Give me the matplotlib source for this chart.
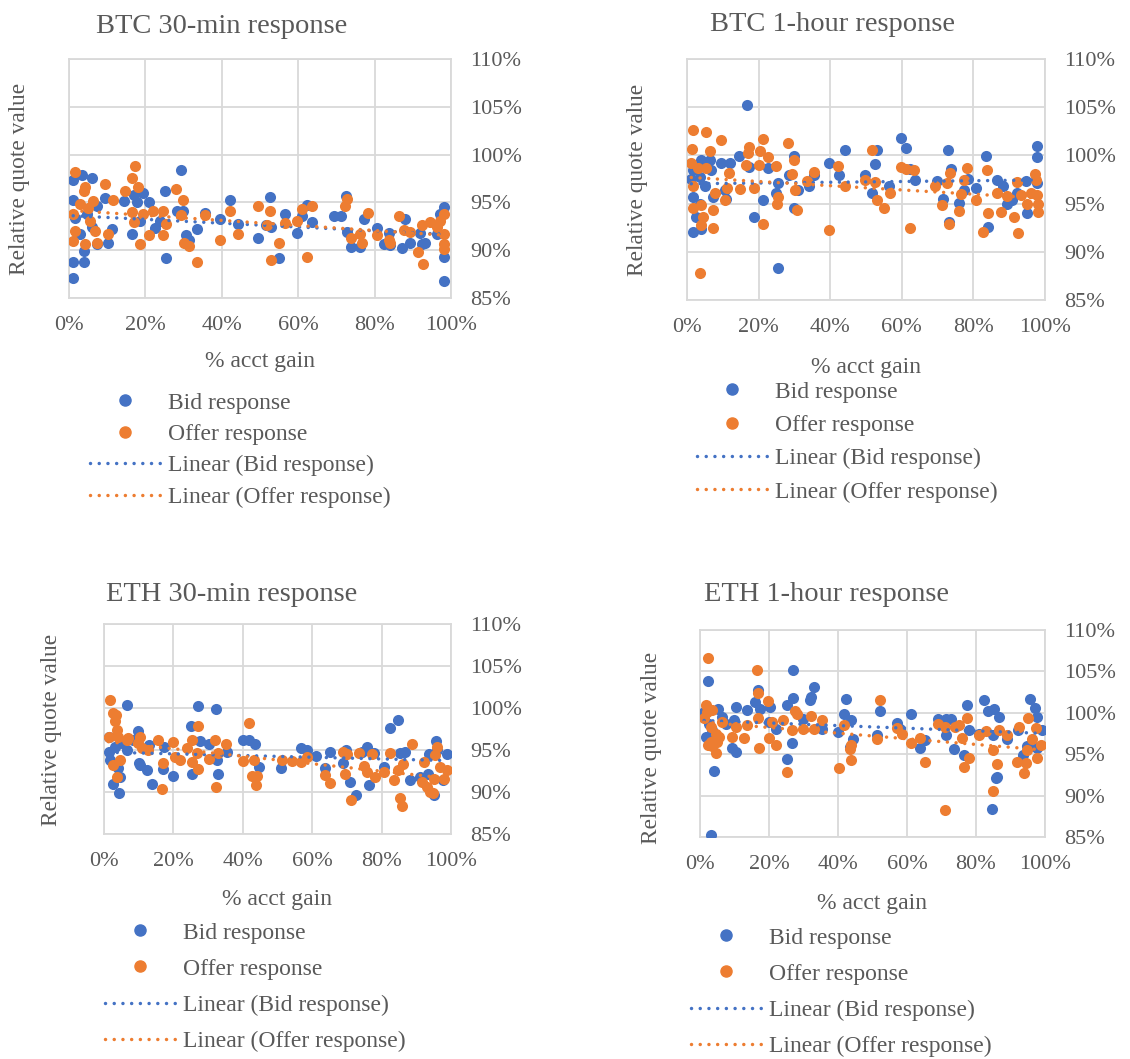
import numpy as np
import matplotlib
matplotlib.use("Agg")
import matplotlib.pyplot as plt
from matplotlib.lines import Line2D
from matplotlib.ticker import FuncFormatter

# values (x = % acct gain, y = relative quote value, both in %)
btc30_bid_x = [1.1, 3.3, 6.1, 1.1, 9.4, 14.5, 16.9, 19.5, 21.0, 25.2, 29.3, 28.2, 29.9, 30.7, 31.5, 33.6,
               35.5, 39.6, 42.2, 44.2, 49.6, 51.5, 52.7, 52.9, 55.0, 56.6, 59.7, 61.0, 62.3, 63.6, 69.3,
               71.3, 72.6, 72.8, 73.8, 76.2, 77.3, 80.6, 82.4, 83.7, 84.1, 87.2, 88.0, 89.3, 92.0, 92.4,
               93.3, 96.3, 97.2, 98.1, 98.1, 98.1, 1.1, 3.8, 1.1, 3.8, 2.9, 5.9, 7.3, 10.3, 11.2, 16.4,
               18.6, 22.5, 25.4, 1.6, 4.6, 7.3, 17.7, 23.8]
btc30_bid_y = [97.3, 97.9, 97.5, 95.2, 95.5, 95.1, 95.8, 96.0, 95.0, 96.2, 98.4, 94.1, 94.1, 91.6, 91.1, 92.2,
               93.9, 93.3, 95.3, 92.7, 91.3, 92.6, 95.6, 92.4, 89.2, 93.8, 91.8, 93.6, 94.7, 93.0, 93.6,
               93.6, 95.7, 91.9, 90.3, 90.3, 93.3, 92.3, 90.6, 91.8, 90.5, 90.2, 93.3, 90.8, 91.8, 90.6,
               90.8, 91.7, 93.8, 94.5, 89.3, 86.8, 88.8, 88.8, 87.1, 89.9, 91.7, 92.4, 90.6, 90.8, 92.2, 91.7,
               93.1, 92.3, 89.2, 93.4, 93.8, 94.6, 95.0, 93.1]
btc30_off_x = [1.6, 4.2, 3.9, 9.4, 11.6, 14.7, 16.4, 17.3, 18.0, 16.4, 16.9, 18.6, 21.0, 19.5, 22.1, 24.7,
               25.4, 24.7, 28.0, 29.8, 29.3, 30.0, 31.3, 33.6, 35.5, 39.4, 42.2, 44.2, 49.6, 52.5, 51.8,
               52.8, 55.0, 56.6, 59.7, 61.1, 63.6, 62.3, 72.3, 72.8, 73.8, 76.2, 76.7, 78.2, 80.6, 83.7,
               84.1, 86.3, 87.6, 89.3, 91.3, 92.7, 92.4, 94.6, 96.3, 97.2, 98.1, 98.1, 98.1, 98.1, 1.1,
               1.6, 1.1, 2.9, 5.1, 6.8, 6.4, 7.3, 4.2, 5.5, 10.3]
btc30_off_y = [98.2, 96.6, 96.2, 96.9, 95.2, 96.2, 97.5, 98.8, 96.6, 94.0, 92.9, 90.6, 91.6, 93.8, 94.1, 94.1,
               92.7, 91.6, 96.4, 95.3, 93.7, 90.8, 90.4, 88.8, 93.7, 91.1, 94.1, 91.7, 94.6, 94.1, 92.6,
               89.0, 90.8, 92.8, 93.1, 94.3, 94.6, 89.3, 94.6, 95.4, 91.3, 91.7, 90.8, 93.9, 91.6, 91.1,
               90.8, 93.6, 92.1, 91.9, 89.8, 88.6, 92.6, 93.0, 92.4, 93.1, 93.8, 91.7, 90.6, 90.1, 93.8,
               92.0, 91.0, 94.8, 94.4, 92.0, 95.1, 90.8, 90.6, 93.1, 91.7]

btc60_bid_x = [16.7, 25.5, 1.7, 4.0, 1.7, 4.0, 6.3, 9.5, 12.0, 14.6, 17.4, 18.8, 21.3, 22.5, 24.8, 25.3,
               29.9, 29.9, 28.5, 31.1, 34.0, 35.4, 39.6, 42.4, 44.2, 49.8, 51.6, 52.5, 53.2, 56.4, 59.8,
               61.1, 62.4, 63.6, 69.7, 71.5, 72.9, 73.1, 73.8, 76.1, 77.5, 78.4, 80.8, 83.5, 84.0, 86.6,
               88.2, 89.5, 90.9, 92.3, 94.6, 95.1, 97.9, 97.9, 97.9, 1.2, 1.7, 3.5, 2.6, 4.9, 7.2, 3.5,
               6.8, 10.9, 10.5]
btc60_bid_y = [105.2, 88.3, 92.1, 92.4, 98.5, 99.5, 99.5, 99.2, 99.2, 99.9, 98.8, 93.6, 95.4, 98.7, 96.1, 97.1,
               99.9, 94.5, 98.0, 96.4, 96.8, 98.0, 99.2, 98.0, 100.6, 98.0, 96.1, 99.1, 100.6, 96.8, 101.8,
               100.8, 98.6, 97.5, 97.3, 95.5, 100.6, 93.1, 98.6, 95.1, 96.4, 97.6, 96.6, 99.9, 92.6, 97.4,
               96.8, 95.0, 95.4, 96.1, 97.3, 94.0, 101.0, 99.8, 97.1, 97.6, 95.7, 95.0, 93.6, 96.8, 95.7, 97.8,
               98.5, 95.5, 96.4]
btc60_off_x = [1.8, 5.4, 1.5, 6.3, 9.5, 11.8, 14.8, 16.5, 17.0, 17.4, 18.8, 20.2, 20.4, 21.1, 21.3, 22.5,
               24.8, 25.0, 25.5, 28.2, 29.9, 29.4, 30.3, 30.8, 33.6, 35.4, 39.6, 42.2, 44.2, 49.6, 51.6,
               52.5, 53.0, 55.1, 56.7, 59.8, 61.3, 63.5, 62.4, 69.4, 71.2, 72.7, 73.1, 73.6, 76.1, 76.4,
               77.5, 78.3, 80.8, 82.6, 83.8, 84.0, 86.6, 87.7, 89.5, 91.4, 92.3, 92.5, 93.2, 94.9, 96.2,
               97.1, 97.4, 97.9, 98.1, 98.1, 3.7, 1.2, 1.7, 1.7, 3.1, 4.0, 4.0, 4.4, 7.2, 7.2, 5.4, 7.7,
               11.2, 10.5]
btc60_off_y = [102.6, 102.4, 100.7, 100.5, 101.6, 98.2, 96.5, 99.0, 100.2, 100.9, 96.6, 99.0, 100.5, 101.7, 92.9, 99.8,
               98.9, 95.0, 95.7, 101.3, 99.5, 98.1, 96.4, 94.3, 97.3, 98.3, 92.3, 98.9, 96.8, 97.5, 100.6,
               97.2, 95.4, 94.5, 96.1, 98.8, 98.6, 98.5, 92.5, 96.8, 94.9, 97.1, 92.9, 98.2, 94.2, 96.0,
               97.4, 98.7, 95.4, 92.1, 98.5, 94.0, 96.1, 94.1, 95.8, 93.6, 97.2, 91.9, 95.9, 95.0, 96.1,
               98.1, 97.4, 95.9, 95.0, 94.1, 87.8, 99.2, 96.8, 94.5, 98.7, 94.9, 92.8, 93.6, 94.3, 92.5, 98.7, 96.1,
               96.6, 95.4]

eth30_bid_x = [6.7, 27.0, 32.3, 25.0, 9.7, 1.3, 2.7, 4.4, 4.6, 10.4, 12.5, 13.8, 13.1, 16.9, 17.3, 19.8,
               25.3, 27.7, 30.4, 32.5, 32.9, 35.4, 40.2, 41.9, 43.6, 44.8, 50.9, 56.7, 58.5, 61.1, 63.7,
               65.0, 68.8, 69.8, 70.9, 72.7, 73.7, 74.3, 75.9, 76.5, 77.9, 80.6, 82.3, 84.6, 85.2, 86.8,
               88.3, 91.2, 93.3, 93.6, 95.0, 95.8, 97.7, 98.8, 96.0, 1.3, 1.7, 3.2, 4.1, 5.1, 6.5, 8.5, 10.2]
eth30_bid_y = [100.3, 100.2, 99.9, 97.8, 97.3, 96.5, 91.0, 89.9, 91.8, 93.2, 92.6, 91.0, 95.6, 92.7, 95.4, 91.9,
               92.2, 96.1, 95.7, 93.8, 92.2, 94.8, 96.2, 96.2, 95.7, 93.0, 92.8, 95.2, 95.0, 94.3, 92.8,
               94.8, 93.5, 95.0, 91.2, 89.6, 94.6, 94.8, 95.4, 90.8, 94.6, 93.0, 97.6, 98.6, 94.6, 94.8,
               91.4, 91.8, 92.2, 94.5, 89.6, 96.1, 91.4, 94.5, 95.0, 94.8, 93.8, 95.4, 92.8, 95.8, 95.0, 96.2, 93.4]
eth30_off_x = [1.7, 2.5, 3.5, 3.2, 3.8, 4.1, 1.3, 2.5, 3.7, 4.6, 6.5, 7.0, 10.4, 9.9, 10.9, 12.8, 15.7, 16.6,
               17.1, 19.8, 20.5, 21.9, 23.8, 25.3, 25.3, 26.7, 27.0, 27.2, 30.4, 32.1, 32.3, 32.9, 35.2,
               41.7, 40.2, 43.1, 42.6, 44.2, 43.8, 51.2, 54.1, 56.7, 58.5, 63.7, 65.0, 69.0, 69.5, 70.0,
               71.2, 73.4, 74.8, 75.8, 77.2, 78.1, 80.6, 82.3, 83.5, 84.6, 85.4, 85.9, 86.3, 88.7, 92.3,
               91.6, 93.1, 94.0, 94.8, 95.2, 95.5, 96.0, 96.9, 98.8, 97.9]
eth30_off_y = [101.0, 99.4, 99.2, 98.4, 97.4, 96.6, 96.6, 93.2, 91.8, 93.8, 96.2, 96.4, 96.6, 95.8, 95.2, 95.0, 96.2, 90.3,
               93.5, 96.0, 94.2, 93.8, 95.2, 96.2, 93.6, 94.6, 97.8, 92.7, 93.9, 96.2, 90.6, 94.6, 95.7,
               98.2, 93.7, 93.8, 91.9, 91.9, 90.8, 93.8, 93.7, 93.6, 94.2, 92.0, 91.1, 94.8, 92.2, 94.5,
               89.1, 94.6, 93.1, 92.4, 94.5, 91.8, 92.4, 94.6, 91.4, 92.6, 89.3, 88.3, 93.3, 95.7, 93.6,
               91.2, 90.6, 90.0, 89.9, 91.6, 94.4, 95.4, 93.0, 92.6, 91.6]

eth60_bid_x = [3.3, 2.4, 4.0, 5.3, 10.5, 13.7, 10.5, 9.3, 15.9, 16.8, 17.5, 20.4, 19.9, 22.1, 25.2, 25.2,
               27.1, 27.1, 26.6, 29.8, 31.9, 32.2, 32.9, 35.3, 40.1, 41.7, 42.3, 43.7, 43.5, 44.4, 51.2,
               52.1, 57.0, 57.9, 61.3, 63.7, 65.1, 68.9, 71.3, 72.8, 71.3, 73.6, 76.4, 77.4, 78.1, 81.0,
               82.4, 83.4, 85.3, 86.7, 84.8, 88.9, 85.8, 86.1, 84.6, 92.2, 93.5, 94.9, 95.7, 97.0, 97.6,
               99.2, 97.8, 1.2, 1.7, 2.6, 3.6, 6.5, 7.4, 9.8]
eth60_bid_y = [85.3, 103.8, 93.0, 100.4, 100.7, 100.3, 95.3, 95.8, 101.3, 102.8, 100.4, 100.7, 98.9, 98.1, 101.0, 94.4,
               105.2, 101.8, 96.3, 99.3, 101.5, 101.9, 103.1, 98.1, 97.7, 99.8, 101.7, 99.1, 95.9, 96.8, 97.3,
               100.2, 98.8, 98.0, 99.8, 95.8, 96.7, 99.3, 99.3, 99.3, 97.3, 95.6, 94.9, 101.0, 97.9, 97.5,
               101.5, 100.2, 100.5, 99.5, 97.3, 96.8, 92.1, 92.2, 88.4, 97.9, 94.9, 96.0, 101.7, 100.6, 99.5,
               97.9, 95.7, 100.1, 97.1, 98.7, 97.9, 99.5, 98.7, 99.1]
eth60_off_x = [2.4, 1.8, 1.2, 3.6, 3.1, 3.4, 4.5, 5.5, 6.5, 9.3, 10.3, 12.7, 13.7, 16.5, 16.8, 17.2, 16.8,
               19.7, 19.9, 20.9, 22.0, 24.2, 25.2, 26.6, 27.4, 28.1, 29.8, 32.2, 32.9, 35.3, 40.4, 41.8,
               43.5, 43.7, 43.9, 51.2, 52.1, 57.0, 58.5, 61.3, 63.7, 65.1, 68.9, 71.1, 70.9, 73.8, 75.0,
               75.8, 76.4, 77.4, 78.1, 81.0, 82.9, 84.8, 84.8, 86.1, 86.7, 88.9, 91.8, 92.5, 93.8, 94.4,
               94.9, 95.1, 96.1, 97.3, 97.8, 98.8, 2.1, 3.1, 4.5, 2.4, 5.0]
eth60_off_y = [106.6, 101.0, 99.4, 100.3, 96.5, 96.0, 95.1, 97.1, 98.9, 97.1, 98.3, 96.9, 98.5, 105.2, 102.4, 95.7, 99.4,
               101.4, 97.0, 98.9, 96.1, 99.1, 92.9, 97.9, 100.2, 99.9, 98.0, 99.6, 98.0, 99.1, 93.3, 98.5,
               95.6, 94.3, 96.1, 96.8, 101.5, 98.2, 97.4, 96.4, 97.0, 94.0, 98.6, 88.3, 98.3, 98.3, 98.5,
               97.0, 93.5, 99.4, 94.5, 97.3, 97.8, 95.5, 90.6, 93.8, 97.9, 97.3, 94.1, 98.3, 92.7, 93.9,
               95.5, 99.4, 96.8, 98.2, 94.5, 96.1, 100.1, 98.3, 97.5, 96.1, 96.5]

titles = ["BTC 30-min response", "BTC 1-hour response", "ETH 30-min response", "ETH 1-hour response"]
x_ticks = [0, 20, 40, 60, 80, 100]
y_ticks = [85, 90, 95, 100, 105, 110]

BLUE = "#4472C4"
ORANGE = "#ED7D31"
GRID = "#D9D9D9"
TXT = "#595959"
W, H = 1130, 1059
DOTS = (0, (0.01, 2.5))

plt.rcParams["font.family"] = ["Liberation Serif", "DejaVu Serif"]

fig = plt.figure(figsize=(W / 100, H / 100), dpi=100)


def fx(x):
    return x / W


def fy(y):
    return 1 - y / H


# panel layout in pixels: plot box, title, y label, x label, legend
panels = [
    dict(box=(69, 59, 451, 298), title=(222, 33), ylab=(20, 179), xlab=(260, 362), leg=(90, 392), sp=0.42,
         data=(btc30_bid_x, btc30_bid_y, btc30_off_x, btc30_off_y)),
    dict(box=(687, 59, 1045, 300), title=(832, 31), ylab=(638, 180), xlab=(866, 367), leg=(697, 381), sp=0.5,
         data=(btc60_bid_x, btc60_bid_y, btc60_off_x, btc60_off_y)),
    dict(box=(104, 624, 451, 834), title=(232, 601), ylab=(52, 730), xlab=(277, 900), leg=(105, 922), sp=0.62,
         data=(eth30_bid_x, eth30_bid_y, eth30_off_x, eth30_off_y)),
    dict(box=(700, 630, 1045, 837), title=(826, 601), ylab=(651, 748), xlab=(872, 904), leg=(691, 927), sp=0.62,
         data=(eth60_bid_x, eth60_bid_y, eth60_off_x, eth60_off_y)),
]

for p, title in zip(panels, titles):
    x0, y0, x1, y1 = p["box"]
    ax = fig.add_axes([fx(x0), fy(y1), (x1 - x0) / W, (y1 - y0) / H])
    bx, by, ox, oy = p["data"]

    ax.scatter(bx, by, s=64, color=BLUE, linewidths=0, zorder=3)
    ax.scatter(ox, oy, s=64, color=ORANGE, linewidths=0, zorder=4)

    # linear trendlines like Excel's
    for xs, ys, c in [(bx, by, BLUE), (ox, oy, ORANGE)]:
        k, b = np.polyfit(xs, ys, 1)
        xx = np.array([min(xs), max(xs)])
        ax.plot(xx, k * xx + b, color=c, lw=2.5, linestyle=DOTS,
                dash_capstyle="round", zorder=5)

    ax.set_xlim(0, 100)
    ax.set_ylim(85, 110)
    ax.set_xticks(x_ticks)
    ax.set_yticks(y_ticks)
    ax.xaxis.set_major_formatter(FuncFormatter(lambda v, _: f"{v:.0f}%"))
    ax.yaxis.set_major_formatter(FuncFormatter(lambda v, _: f"{v:.0f}%"))
    ax.yaxis.tick_right()
    ax.tick_params(length=0, labelsize=16, labelcolor=TXT)
    ax.tick_params(axis="x", pad=13)
    ax.tick_params(axis="y", pad=14)
    ax.grid(True, color=GRID, lw=1.3, zorder=0)
    ax.set_axisbelow(True)
    for s in ax.spines.values():
        s.set_color(GRID)
        s.set_linewidth(1.3)

    fig.text(fx(p["title"][0]), fy(p["title"][1]), title, ha="center", va="baseline",
             fontsize=20.5, color=TXT)
    fig.text(fx(p["ylab"][0]), fy(p["ylab"][1]), "Relative quote value", rotation=90,
             ha="center", va="center", fontsize=16.8, color=TXT)
    fig.text(fx(p["xlab"][0]), fy(p["xlab"][1]), "% acct gain", ha="center", va="center",
             fontsize=17, color=TXT)

    handles = [
        Line2D([], [], marker="o", ls="none", color=BLUE, markersize=8),
        Line2D([], [], marker="o", ls="none", color=ORANGE, markersize=8),
        Line2D([], [], color=BLUE, lw=2.5, linestyle=DOTS, dash_capstyle="round"),
        Line2D([], [], color=ORANGE, lw=2.5, linestyle=DOTS, dash_capstyle="round"),
    ]
    labels = ["Bid response", "Offer response", "Linear (Bid response)", "Linear (Offer response)"]
    leg = ax.legend(handles, labels, loc="upper left", bbox_to_anchor=(fx(p["leg"][0]), fy(p["leg"][1])),
                    bbox_transform=fig.transFigure, frameon=False, fontsize=17, borderpad=0,
                    borderaxespad=0, handlelength=3.0, handletextpad=0.3, labelspacing=p["sp"])
    for t in leg.get_texts():
        t.set_color(TXT)

fig.savefig("out.png", dpi=100)
